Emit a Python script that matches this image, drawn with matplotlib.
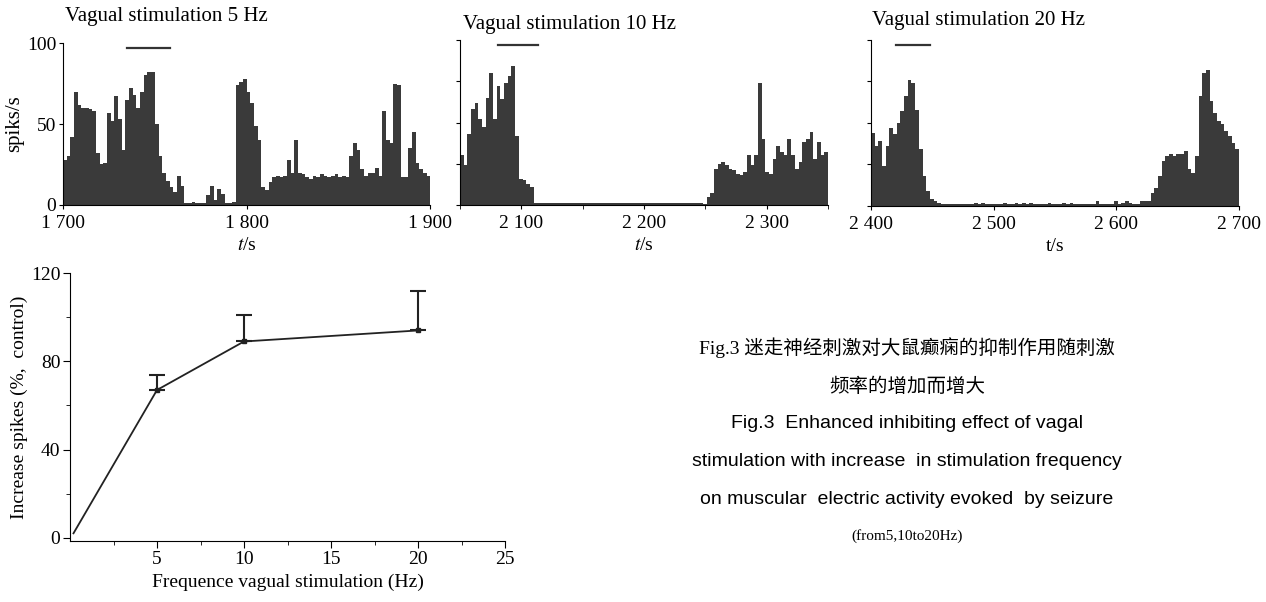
import numpy as np
import matplotlib
matplotlib.use("Agg")
import matplotlib.pyplot as plt
from matplotlib.ticker import FixedLocator

plt.rcParams['font.family'] = ['Liberation Serif', 'Noto Sans CJK SC', 'DejaVu Sans']
plt.rcParams['font.size'] = 14
plt.rcParams['mathtext.fontset'] = 'stix'

# ---------------- data ----------------
# panel 1: 5 Hz, 2 s bins from 1700 s
t0_5hz, bw_5hz = 1700, 2
rate_5hz = [28, 30, 42, 70, 62, 60, 60, 59, 58, 32,
            25, 26, 57, 52, 67, 53, 34, 65, 72, 68,
            60, 70, 80, 82, 82, 50, 30, 20, 15, 11,
            8, 18, 12, 1, 1, 2, 1, 1, 1, 6,
            12, 3, 10, 7, 1, 1, 2, 74, 76, 78,
            70, 63, 49, 40, 11, 9, 14, 17, 18, 17,
            18, 28, 20, 40, 20, 19, 17, 16, 18, 17,
            19, 18, 17, 18, 19, 17, 18, 17, 30, 38,
            34, 22, 18, 20, 20, 23, 18, 58, 40, 38,
            75, 74, 17, 17, 35, 45, 26, 22, 20, 18]
stim_5hz = [1735, 1758]

# panel 2: 10 Hz, 3 s bins from 2050 s
t0_10hz, bw_10hz = 2050, 3
rate_10hz = [30, 24, 43, 58, 62, 52, 47, 65, 80, 52,
             72, 64, 74, 78, 84, 42, 16, 15, 13, 11,
             1, 1, 1, 1, 1, 1, 1, 1, 1, 1,
             1, 1, 1, 1, 1, 1, 1, 1, 1, 1,
             1, 1, 1, 1, 1, 1, 1, 1, 1, 1,
             1, 1, 1, 1, 1, 1, 1, 1, 1, 1,
             1, 1, 1, 1, 1, 1, 0.5, 5, 7, 22,
             25, 26, 24, 22, 21, 19, 18, 20, 30, 24,
             30, 74, 40, 20, 19, 28, 36, 32, 30, 40,
             30, 22, 26, 38, 40, 44, 28, 38, 30, 32]
stim_10hz = [2081, 2114]

# panel 3: 20 Hz, 3 s bins from 2400 s
t0_20hz, bw_20hz = 2400, 3
rate_20hz = [44, 36, 39, 24, 36, 47, 43, 50, 57, 66,
             76, 74, 58, 34, 18, 9, 4, 3, 2, 1,
             1, 1, 1, 1, 1, 1, 1, 1, 2, 1,
             2, 1, 1, 1, 1, 1, 2, 1, 1, 2,
             1, 2, 1, 2, 1, 1, 1, 1, 2, 1,
             1, 1, 2, 1, 2, 1, 1, 1, 1, 1,
             1, 3, 1, 1, 1, 1, 3, 1, 2, 3,
             2, 1, 1, 3, 3, 3, 8, 11, 18, 27,
             30, 31, 30, 31, 31, 33, 22, 20, 30, 66,
             80, 82, 63, 56, 51, 49, 45, 42, 38, 34]
stim_20hz = [2420, 2448]

# frequency vs increase
freq = [0.2, 5, 10, 20]
increase = [2, 67, 89, 94]
increase_err = [0, 7, 12, 18]

caption_cn = ["Fig.3 迷走神经刺激对大鼠癫痫的抑制作用随刺激", "频率的增加而增大"]
caption_en = ["Fig.3  Enhanced inhibiting effect of vagal",
              "stimulation with increase  in stimulation frequency",
              "on muscular  electric activity evoked  by seizure"]
caption_tail = "(from5,10to20Hz)"

BAR = '#3a3a3a'
W, H = 1266, 602

fig = plt.figure(figsize=(12.66, 6.02), dpi=100)


def hist_panel(rect, t0, bw, rate, stim, xlim, xt, xminor, title, title_xy, ylab, yticklab, xlab):
    ax = fig.add_axes(rect)
    edges = t0 + bw * np.arange(len(rate))
    ax.bar(edges, rate, width=bw, align='edge', color=BAR, linewidth=0)
    ax.plot(stim, [97, 97], color='#333333', lw=1.6, clip_on=False)
    ax.set_xlim(*xlim); ax.set_ylim(0, 100)
    for s in ['top', 'right']:
        ax.spines[s].set_visible(False)
    ax.set_xticks(xt)
    ax.set_xticklabels([f"{v // 1000} {v % 1000:03d}" for v in xt])
    if xminor:
        ax.xaxis.set_minor_locator(FixedLocator(xminor))
    ax.tick_params(axis='both', direction='out', length=3, width=0.8, pad=2)
    ax.tick_params(axis='x', pad=4)
    ax.tick_params(axis='x', which='minor', length=3)
    if yticklab:
        ax.set_yticks([0, 50, 100])
        ax.set_ylabel(ylab, labelpad=2, fontsize=15)
    else:
        ax.set_yticks([0, 25, 50, 75, 100]); ax.set_yticklabels([])
    ax.set_xlabel(xlab, labelpad=4)
    fig.text(title_xy[0] / W, 1 - title_xy[1] / H, title, fontsize=15, va='center', ha='left')
    return ax


hist_panel([0.0498, 0.6595, 0.290, 0.269], t0_5hz, bw_5hz, rate_5hz, stim_5hz,
           (1700, 1900), [1700, 1800, 1900], None, "Vagual stimulation 5 Hz", (65, 17),
           "spiks/s", True, "$t$/s")
hist_panel([0.3633, 0.6595, 0.2907, 0.274], t0_10hz, bw_10hz, rate_10hz, stim_10hz,
           (2050, 2350), [2100, 2200, 2300], [2050, 2150, 2250, 2350],
           "Vagual stimulation 10 Hz", (463, 24), "", False, "$t$/s")
hist_panel([0.688, 0.658, 0.2907, 0.276], t0_20hz, bw_20hz, rate_20hz, stim_20hz,
           (2400, 2700), [2400, 2500, 2600, 2700], None,
           "Vagual stimulation 20 Hz", (872, 20), "", False, "t/s")

# ---------------- bottom line chart ----------------
ax = fig.add_axes([0.0553, 0.1013, 0.3436, 0.445])
ax.plot(freq, increase, color='#222222', lw=1.3)
ax.errorbar(freq[1:], increase[1:], yerr=[[0] * 3, increase_err[1:]], fmt='s', ms=3,
            color='#222222', ecolor='#222222', elinewidth=1.5, capsize=6, capthick=1.5)
ax.set_xlim(0, 25); ax.set_ylim(-1.5, 120)
for s in ['top', 'right']:
    ax.spines[s].set_visible(False)
ax.set_xticks([5, 10, 15, 20, 25])
ax.xaxis.set_minor_locator(FixedLocator([2.5, 7.5, 12.5, 17.5, 22.5]))
ax.set_yticks([0, 40, 80, 120])
ax.yaxis.set_minor_locator(FixedLocator([20, 60, 100]))
ax.tick_params(axis='both', direction='out', length=5, width=0.8, pad=2)
ax.tick_params(axis='both', which='minor', length=3)
ax.set_xlabel("Frequence vagual stimulation (Hz)", labelpad=4)
ax.set_ylabel("Increase spikes (%,  control)", labelpad=2)

# ---------------- caption ----------------
cx = 907 / W
ys = [348, 387, 423, 462, 500]
for txt, y in zip(caption_cn, ys[:2]):
    fig.text(cx, 1 - y / H, txt, ha='center', va='center', fontsize=14,
             family=['Liberation Serif', 'Noto Sans CJK SC'])
for txt, y in zip(caption_en, ys[2:]):
    fig.text(cx, 1 - y / H, txt, ha='center', va='center', fontsize=14,
             family=['Liberation Sans Narrow', 'Liberation Sans'])
fig.text(cx, 1 - 536 / H, caption_tail, ha='center', va='center', fontsize=11,
         family='Liberation Serif')

fig.savefig("out.png", dpi=100)
